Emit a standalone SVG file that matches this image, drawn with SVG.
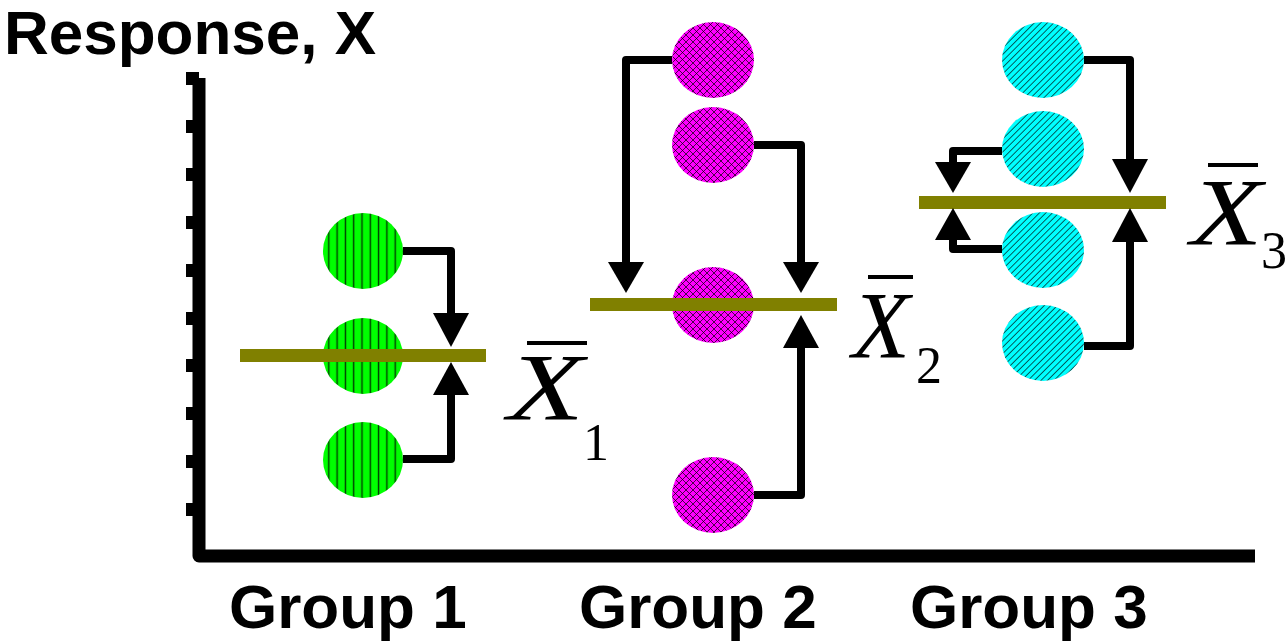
<svg xmlns="http://www.w3.org/2000/svg" width="1288" height="642" viewBox="0 0 1288 642">
  <defs>
    <!-- fills for the three groups of observations -->
    <pattern id="hatch-vertical" patternUnits="userSpaceOnUse" x="0" y="0" width="8.3" height="10">
      <rect width="8.3" height="10" fill="#00ff00"/>
      <line x1="5.1" y1="0" x2="5.1" y2="10" stroke="#003a00" stroke-width="1.4"/>
    </pattern>
    <pattern id="hatch-cross" patternUnits="userSpaceOnUse" x="0" y="0" width="7" height="7">
      <rect width="7" height="7" fill="#ff00ff"/>
      <path d="M0 0 L7 7 M7 0 L0 7" stroke="#000" stroke-width="0.7"/>
    </pattern>
    <pattern id="hatch-diagonal" patternUnits="userSpaceOnUse" x="0" y="0" width="4.6" height="10" patternTransform="rotate(45)">
      <rect width="4.6" height="10" fill="#00ffff"/>
      <line x1="2.3" y1="0" x2="2.3" y2="10" stroke="#004848" stroke-width="0.9"/>
    </pattern>
  </defs>
  <style>
    .title { font-family: "Liberation Sans", Arial, sans-serif; font-weight: bold; font-size: 62px; fill: #000; }
    .axis { fill: none; stroke: #000; stroke-width: 13; stroke-linejoin: round; }
    .tick { fill: #000; }
    .mean { stroke: #808000; stroke-width: 13; }
    .wire { fill: none; stroke: #000; stroke-width: 8; stroke-linejoin: round; }
    .head { fill: #000; }
    .bar { fill: #000; }
    .xsym { font-family: "Liberation Serif", "Times New Roman", serif; font-style: italic; font-size: 95px; fill: #000; }
    .sub { font-family: "Liberation Serif", "Times New Roman", serif; font-size: 52px; fill: #000; }
    .g1 { fill: url(#hatch-vertical); }
    .g2 { fill: url(#hatch-cross); }
    .g3 { fill: url(#hatch-diagonal); }
  </style>

  <rect width="1288" height="642" fill="#fff"/>

  <!-- axes -->
  <g id="axes">
    <path class="axis" d="M199 78 V556 H1255"/>
    <rect class="tick" x="186" y="72" width="13" height="13"/>
    <rect class="tick" x="186" y="120" width="13" height="13"/>
    <rect class="tick" x="186" y="168" width="13" height="13"/>
    <rect class="tick" x="186" y="216" width="13" height="13"/>
    <rect class="tick" x="186" y="264" width="13" height="13"/>
    <rect class="tick" x="186" y="312" width="13" height="13"/>
    <rect class="tick" x="186" y="359" width="13" height="13"/>
    <rect class="tick" x="186" y="407" width="13" height="13"/>
    <rect class="tick" x="186" y="455" width="13" height="13"/>
    <rect class="tick" x="186" y="503" width="13" height="13"/>
    <text class="title" x="4" y="54">Response, X</text>
    <text class="title" x="229" y="628">Group 1</text>
    <text class="title" x="579" y="628">Group 2</text>
    <text class="title" x="910" y="628">Group 3</text>
  </g>

  <!-- group 1 observations -->
  <g id="group1">
    <ellipse class="g1" cx="363" cy="251" rx="40" ry="38"/>
    <ellipse class="g1" cx="363" cy="356" rx="40" ry="38"/>
    <ellipse class="g1" cx="363" cy="460" rx="40" ry="38"/>
  </g>

  <!-- group 2 observations -->
  <g id="group2">
    <ellipse class="g2" cx="713" cy="60" rx="41" ry="38"/>
    <ellipse class="g2" cx="713" cy="145" rx="41" ry="38"/>
    <ellipse class="g2" cx="713" cy="305" rx="41" ry="38"/>
    <ellipse class="g2" cx="713" cy="495" rx="41" ry="38"/>
  </g>

  <!-- group 3 observations -->
  <g id="group3">
    <ellipse class="g3" cx="1043" cy="60" rx="41" ry="38"/>
    <ellipse class="g3" cx="1043" cy="149" rx="41" ry="38"/>
    <ellipse class="g3" cx="1043" cy="250" rx="41" ry="38"/>
    <ellipse class="g3" cx="1043" cy="343" rx="41" ry="38"/>
  </g>

  <!-- group means -->
  <g id="mean1">
    <line class="mean" x1="240" y1="355.5" x2="486" y2="355.5"/>
    <rect class="bar" x="527" y="341" width="60" height="4"/>
    <text class="xsym" transform="translate(507.5 420) scale(1.32 1)">X</text>
    <text class="sub" x="583" y="460">1</text>
  </g>
  <g id="mean2">
    <line class="mean" x1="590" y1="304.5" x2="837" y2="304.5"/>
    <rect class="bar" x="868" y="275" width="45" height="4"/>
    <text class="xsym" x="852" y="358">X</text>
    <text class="sub" x="916" y="383">2</text>
  </g>
  <g id="mean3">
    <line class="mean" x1="919" y1="202.5" x2="1166" y2="202.5"/>
    <rect class="bar" x="1208" y="163" width="50" height="4"/>
    <text class="xsym" transform="translate(1190.5 245) scale(1.24 1)">X</text>
    <text class="sub" x="1261" y="268">3</text>
  </g>

  <!-- deviations of each observation from its group mean -->
  <g id="connectors">
    <path class="wire" d="M403 251 H451 V315"/>
    <polygon class="head" points="433,313 469,313 451,347"/>
    <path class="wire" d="M403 459 H451 V393"/>
    <polygon class="head" points="433,395 469,395 451,362"/>

    <path class="wire" d="M672 60 H626 V264"/>
    <polygon class="head" points="608,262 644,262 626,293"/>
    <path class="wire" d="M754 145 H801 V264"/>
    <polygon class="head" points="783,262 819,262 801,293"/>
    <path class="wire" d="M754 495 H801 V346"/>
    <polygon class="head" points="783,348 819,348 801,315"/>

    <path class="wire" d="M1084 60 H1130 V161"/>
    <polygon class="head" points="1112,159 1148,159 1130,193"/>
    <path class="wire" d="M1084 346 H1130 V240"/>
    <polygon class="head" points="1112,242 1148,242 1130,208"/>
    <path class="wire" d="M1002 151 H953 V164"/>
    <polygon class="head" points="935,162 971,162 953,193"/>
    <path class="wire" d="M1002 249 H953 V238"/>
    <polygon class="head" points="935,240 971,240 953,208"/>
  </g>
</svg>
